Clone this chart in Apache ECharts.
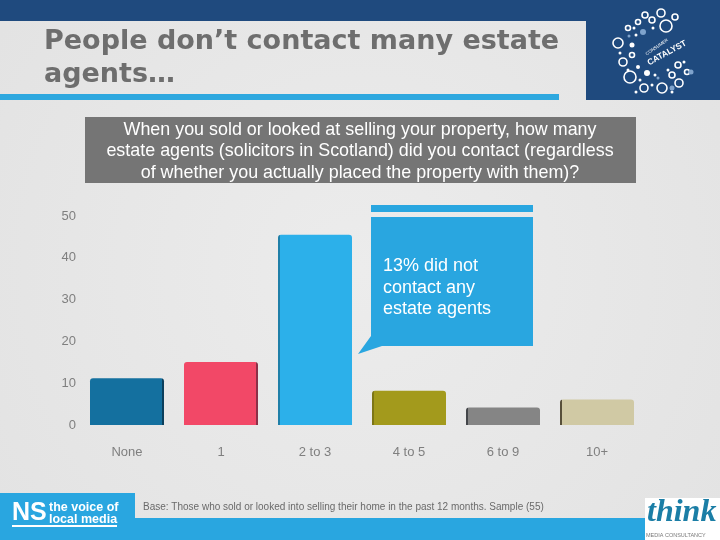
<!DOCTYPE html>
<html>
<head>
<meta charset="utf-8">
<style>
  html, body { margin: 0; padding: 0; }
  #main { width: 720px; height: 540px; }
</style>
<script src="https://cdn.jsdelivr.net/npm/echarts@6/dist/echarts.min.js"></script>
</head>
<body>
<div id="main"></div>
<script>
const categories = ["None", "1", "2 to 3", "4 to 5", "6 to 9", "10+"];
const shares = [11.2, 15.1, 45.5, 8.2, 4.2, 6.1];
const yTicks = [0, 10, 20, 30, 40, 50];
// main colour, edge colour, which side the dark edge is on
const barColors = [
  ["#14709f", "#0b3f5c", "right"],
  ["#f24867", "#8c3048", "right"],
  ["#2cb0ea", "#1f7fa8", "left"],
  ["#a39a1c", "#7d7616", "left"],
  ["#858585", "#44464a", "left"],
  ["#d0c9a4", "#574f3a", "left"],
];

const titleLines = "People don\u2019t contact many estate\nagents\u2026";
const questionText = "When you sold or looked at selling your property, how many\nestate agents (solicitors in Scotland) did you contact (regardless\nof whether you actually placed the property with them)?";
const calloutText = "13% did not\ncontact any\nestate agents";
const baseText = "Base: Those who sold or looked into selling their home in the past 12 months. Sample (55)";

// corner logo: rings
const logoRings = [
  [618, 43, 5], [666, 26, 6], [630, 77, 6], [662, 88, 5], [623, 62, 4], [644, 88, 4],
  [679, 83, 4], [661, 13, 4], [652, 20, 3], [645, 15, 3], [675, 17, 3], [638, 22, 2.5],
  [628, 28, 2.5], [632, 55, 2.5], [678, 65, 3], [672, 75, 3], [687, 72, 2.5],
];
// corner logo: solid dots
const logoDots = [
  [632, 45, 2.5], [638, 67, 2], [647, 73, 3], [652, 85, 1.5], [620, 53, 1.5], [636, 35, 1.5],
  [628, 70, 1.5], [653, 28, 1.5], [684, 62, 1.5], [668, 70, 1.5], [640, 80, 1.5], [672, 92, 1.5],
  [655, 75, 1.5], [636, 92, 1.5], [634, 28, 1.5],
];
// corner logo: pale dots
const logoPaleDots = [[643, 32, 3], [672, 88, 2.5], [691, 72, 2.5], [658, 78, 1.5], [629, 36, 1.5]];

function edgeGradient(main, edge, side) {
  const w = 0.03;
  const stops = side === "left"
    ? [[0, edge], [w, edge], [w, main], [1, main]]
    : [[0, main], [1 - w, main], [1 - w, edge], [1, edge]];
  return {
    type: "linear", x: 0, y: 0, x2: 1, y2: 0,
    colorStops: stops.map((s) => ({ offset: s[0], color: s[1] })),
  };
}

function rect(x, y, width, height, fill, z) {
  return { type: "rect", shape: { x, y, width, height }, style: { fill }, z: z || 0, silent: true };
}

function label(x, y, text, font, fill, align, lineHeight, z) {
  return {
    type: "text", x, y, z: z || 5, silent: true,
    style: { text, font, fill, align: align || "left", verticalAlign: "top", lineHeight },
  };
}

function dot(d, fill, stroke) {
  return {
    type: "circle", silent: true, z: 4,
    shape: { cx: d[0], cy: d[1], r: d[2] },
    style: { fill, stroke, lineWidth: stroke ? 1.6 : 0 },
  };
}

const chart = echarts.init(document.getElementById("main"), null, { renderer: "canvas" });

const option = {
  animation: false,
  backgroundColor: {
    type: "radial", x: 0.5, y: 0.5, r: 0.8,
    colorStops: [{ offset: 0, color: "#ececec" }, { offset: 1, color: "#e3e3e3" }],
  },
  title: {
    text: titleLines,
    left: 44,
    top: 25,
    padding: 0,
    textStyle: {
      fontFamily: "DejaVu Sans",
      fontWeight: "bold",
      fontSize: 27,
      lineHeight: 33,
      color: "#6e6e6e",
    },
  },
  grid: { left: 80, right: 76, top: 216, bottom: 115 },
  xAxis: {
    type: "category",
    data: categories,
    axisLine: { show: false },
    axisTick: { show: false },
    axisLabel: { margin: 21, fontFamily: "Liberation Sans", fontSize: 13, color: "#7f7f7f" },
  },
  yAxis: {
    type: "value",
    min: yTicks[0],
    max: yTicks[yTicks.length - 1],
    interval: 10,
    splitLine: { show: false },
    axisLine: { show: false },
    axisTick: { show: false },
    axisLabel: { margin: 4, padding: [0, 0, 6, 0], fontFamily: "Liberation Sans", fontSize: 13, color: "#7f7f7f" },
  },
  series: [
    {
      type: "bar",
      barWidth: 74,
      data: shares.map((value, i) => ({
        value,
        itemStyle: {
          color: edgeGradient(barColors[i][0], barColors[i][1], barColors[i][2]),
          borderRadius: [3, 3, 0, 0],
        },
      })),
    },
  ],
  graphic: {
    elements: [
      // header
      rect(0, 0, 720, 21, "#1f4a7e"),
      rect(586, 21, 134, 79, "#1f4a7e"),
      rect(0, 94, 559, 6, "#2ea8df"),
      // question box
      rect(85, 117, 551, 66, "#757575"),
      label(360, 119, questionText, "17.9px 'Liberation Sans'", "#ffffff", "center", 21.5),
      // callout
      rect(371, 205, 162, 7, "#29a6e0", 6),
      {
        type: "polygon", silent: true, z: 6,
        shape: { points: [[371, 217], [533, 217], [533, 346], [382, 346], [358, 354], [371, 336]] },
        style: { fill: "#29a6e0" },
      },
      label(383, 255, calloutText, "18px 'Liberation Sans'", "#ffffff", "left", 21.7, 7),
      // footer
      rect(0, 518, 720, 22, "#29a6e0"),
      rect(0, 493, 135, 47, "#29a6e0"),
      label(143, 502, baseText, "10px 'Liberation Sans'", "#6a6a6a"),
      label(12, 501, "NS", "bold 25px 'Liberation Sans'", "#ffffff"),
      label(49, 501, "the voice of\nlocal media", "bold 12.5px 'Liberation Sans'", "#ffffff", "left", 12.5),
      rect(12, 525, 105, 2, "#ffffff", 5),
      // think logo
      rect(645, 498, 75, 42, "#ffffff", 4),
      label(647, 497, "think", "italic bold 32px 'Liberation Serif'", "#1b7ea6"),
      label(646, 532, "MEDIA CONSULTANCY", "5.5px 'Liberation Sans'", "#7a7a7a"),
      // catalyst logo
      ...logoRings.map((d) => dot(d, "#1f4a7e", "#ffffff")),
      ...logoDots.map((d) => dot(d, "#ffffff")),
      ...logoPaleDots.map((d) => dot(d, "#7fa3cc")),
      {
        type: "text", x: 667, y: 53, rotation: 0.5, z: 5, silent: true,
        style: { text: "CATALYST", font: "bold 8.5px 'Liberation Sans'", fill: "#ffffff", align: "center", verticalAlign: "middle" },
      },
      {
        type: "text", x: 657, y: 47, rotation: 0.6, z: 5, silent: true,
        style: { text: "CONSUMER", font: "4.5px 'Liberation Sans'", fill: "#ffffff", align: "center", verticalAlign: "middle" },
      },
    ],
  },
};

chart.setOption(option);
</script>
</body>
</html>
